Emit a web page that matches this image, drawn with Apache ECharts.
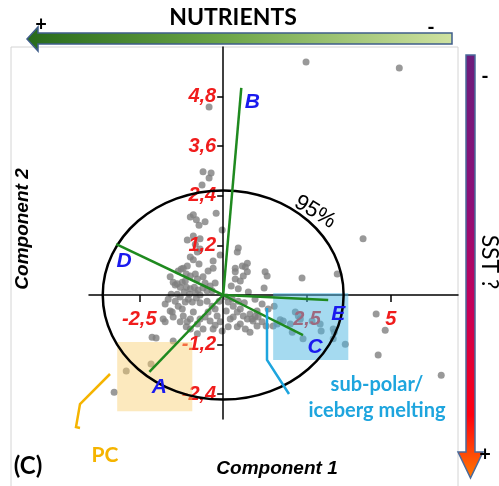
<!DOCTYPE html>
<html><head><meta charset="utf-8">
<script src="https://cdn.jsdelivr.net/npm/echarts@6/dist/echarts.min.js"></script>
<style>html,body{margin:0;padding:0;background:#fff}#c{width:499px;height:486px}</style>
</head><body><div id="c"></div>
<script>
// ---- data ----
const xTicks = [-2.5, 2.5, 5];
const yTicks = [-2.4, -1.2, 1.2, 2.4, 3.6, 4.8];
const pcX = [2.47,5.25,-0.42,-0.60,-0.36,-0.42,-0.63,-0.89,-0.98,-0.80,-0.72,-0.54,-0.21,-0.03,-1.07,-0.89,-0.83,-0.69,-0.77,-0.98,
 -0.89,-1.07,-0.30,-0.09,0.45,0.42,0.36,0.57,0.72,4.17,-1.19,-1.34,-1.25,-0.72,-0.60,-0.45,-0.30,0.36,0.66,0.72,
 0.60,0.36,0.51,1.25,1.31,2.35,3.40,1.22,-1.49,-1.37,-1.22,-1.13,-0.98,-0.83,-0.77,-1.43,-1.28,-1.10,-0.98,-0.86,
 -0.75,-0.60,-0.48,-1.16,-1.01,-0.83,-0.69,-1.37,-1.28,-1.43,-1.34,-1.13,-1.22,-1.04,-0.92,-0.80,-0.69,-1.49,-1.52,-1.79,
 -1.58,-1.19,-0.98,-0.89,-1.07,-0.77,-0.69,-0.48,-0.33,-0.45,-0.24,-0.18,-0.09,-0.30,-0.03,0.15,0.30,0.42,0.51,0.60,
 0.72,0.80,0.89,1.01,0.21,0.15,0.42,0.09,0.27,0.45,0.63,-2.12,-2.00,-1.49,-2.15,-2.89,-3.25,-1.73,-1.28,-1.10,
 1.01,1.04,1.16,1.28,0.95,0.86,1.52,1.70,1.79,1.61,1.49,2.15,2.24,2.30,2.00,2.06,2.38,2.65,2.89,2.92,
 3.28,3.31,3.28,3.64,4.56,4.83,4.62,6.50,-1.10,-1.58,-0.54,-0.39,-0.24,-0.33,-1.55,-1.64,-1.73,-0.54,-0.39,-0.24,
 -0.60,-0.77,-0.98,0.30,0.51,0.66,0.80,0.09,-0.12,0.24,0.45,0.75,0.95,1.16,1.34,-0.69];
const pcY = [5.64,5.49,4.55,2.98,2.95,2.83,2.66,1.94,1.89,1.82,1.69,1.77,1.98,1.57,1.33,1.43,1.23,1.11,1.04,0.92,
 0.85,0.70,0.82,0.97,1.14,1.04,0.65,0.70,0.77,1.36,0.65,0.58,0.63,0.75,0.44,0.58,0.65,0.56,0.68,0.56,
 0.46,0.39,0.34,0.56,0.46,0.41,0.51,0.17,0.31,0.27,0.31,0.34,0.46,0.51,0.39,0.24,0.19,0.19,0.15,0.19,
 0.12,0.17,0.10,0.07,0.02,0.05,0.00,0.02,-0.05,-0.15,-0.27,-0.17,-0.34,-0.10,-0.17,-0.07,-0.19,-0.53,-0.41,-0.58,
 -0.39,-0.51,-0.58,-0.41,-0.65,-0.70,-0.58,-0.15,-0.27,-0.41,-0.34,-0.51,-0.65,-0.82,-0.87,-0.17,-0.27,-0.41,-0.34,-0.51,
 -0.58,-0.46,-0.63,-0.75,-0.58,-0.77,-0.77,-0.05,-0.10,-0.15,-0.19,-1.02,-1.04,-1.11,-1.67,-1.84,-2.35,-0.65,-0.65,-0.77,
 -0.39,-0.53,-0.65,-0.75,-0.52,-0.58,-0.27,-0.60,-0.63,-0.70,-0.75,-0.41,-0.51,-0.58,-0.70,-0.90,-1.06,-0.63,-0.70,-0.87,
 -0.82,-0.90,-1.06,-1.19,-0.46,-0.85,-1.45,-1.94,0.51,0.44,0.29,0.22,0.29,0.10,0.02,-0.10,-0.22,-0.53,-0.63,-0.73,
 -0.82,-0.94,-0.82,-0.53,-0.70,-0.82,-0.90,-0.39,-0.15,0.22,0.15,0.07,-0.10,-0.22,-0.34,1.36];
const loadingNames = ['A', 'B', 'C', 'D', 'E'];
const loadingX = [-2.20, 0.54, 2.38, -3.19, 3.13];
const loadingY = [-1.86, 5.01, -0.97, 1.23, -0.12];
const ellipseRadii = [3.59, 2.53];           // 95% confidence ellipse (x, y)
const pcBox = [-3.16, -0.92, -2.81, -1.14];       // xMin, xMax, yMin, yMax
const icebergBox = [1.49, 3.73, -1.57, 0.05];
const xRange = [-4, 7];
const yRange = [-3, 6];

// ---- layout / styles ----
const G = {left:89, right:41, top:47, bottom:67, W:499, H:486};
const gw = G.W - G.left - G.right, gh = G.H - G.top - G.bottom;
// shift axes so that they cross at the origin
const xAxisOffset = -(gh * (0 - yRange[0]) / (yRange[1] - yRange[0]));
const yAxisOffset = -(gw * (0 - xRange[0]) / (xRange[1] - xRange[0]));
const labelOffsets = {A:[10,15], B:[11,14], C:[12,12], D:[8,17], E:[10,14]};
const tickFont = {color:'#f01c1c', fontSize:20, fontWeight:'bold', fontStyle:'italic', fontFamily:'Liberation Sans'};
const fmt = v => String(v).replace('.', ',');

const chart = echarts.init(document.getElementById('c'), null, {renderer:'canvas'});
const points = pcX.map((x, i) => [x, pcY[i]]);

function boxSeries(box, color, z) {
  return {
    type:'custom', z:z, silent:true, data:[box],
    encode:{x:[0,1], y:[2,3]},
    renderItem(params, api) {
      const p1 = api.coord([api.value(0), api.value(3)]);
      const p2 = api.coord([api.value(1), api.value(2)]);
      return {type:'rect', shape:{x:p1[0], y:p1[1], width:p2[0]-p1[0], height:p2[1]-p1[1]}, style:{fill:color}};
    }
  };
}

const T = (text, x, y, font, extra, fill) => Object.assign({type:'text', x:x, y:y, style:{text:text, font:font, fill:fill || '#000', align:'center', verticalAlign:'middle'}}, extra || {});

chart.setOption({
  animation:false,
  grid:{left:G.left, right:G.right, top:G.top, bottom:G.bottom, containLabel:false},
  xAxis:{type:'value', z:2, min:xRange[0], max:xRange[1], position:'bottom', offset:xAxisOffset,
    axisLine:{onZero:false, lineStyle:{color:'#000', width:1.5}},
    axisTick:{show:true, customValues:xTicks, length:7, lineStyle:{color:'#000', width:1.5}},
    axisLabel:Object.assign({customValues:xTicks, formatter:fmt, margin:14}, tickFont),
    splitLine:{show:false}},
  yAxis:{type:'value', z:2, min:yRange[0], max:yRange[1], position:'left', offset:yAxisOffset,
    axisLine:{onZero:false, lineStyle:{color:'#000', width:1.5}},
    axisTick:{show:true, customValues:yTicks, length:6, lineStyle:{color:'#000', width:1.5}},
    axisLabel:Object.assign({customValues:yTicks, formatter:fmt, margin:7}, tickFont),
    splitLine:{show:false}},
  series:[
    {type:'scatter', z:1, data:points, symbolSize:7, itemStyle:{color:'#7f7f7f'}, silent:true},
    boxSeries(pcBox, 'rgba(248,206,110,0.45)', 3),
    boxSeries(icebergBox, 'rgba(75,181,225,0.5)', 3),
    {type:'custom', z:4, silent:true, data:[[0, 0, ellipseRadii[0], ellipseRadii[1]]],
      encode:{x:0, y:1},
      renderItem(params, api) {
        const c = api.coord([api.value(0), api.value(1)]);
        const s = api.size([api.value(2), api.value(3)]);
        return {type:'ellipse', shape:{cx:c[0], cy:c[1], rx:s[0], ry:s[1]}, style:{fill:null, stroke:'#000', lineWidth:2.5}};
      }},
    {type:'custom', z:5, silent:true, data:loadingX.map((x, i) => [x, loadingY[i]]),
      encode:{x:0, y:1},
      renderItem(params, api) {
        const o = api.coord([0, 0]);
        const e = api.coord([api.value(0), api.value(1)]);
        const name = loadingNames[params.dataIndex];
        const off = labelOffsets[name];
        return {type:'group', children:[
          {type:'line', shape:{x1:o[0], y1:o[1], x2:e[0], y2:e[1]}, style:{stroke:'#1f8a1f', lineWidth:2.5}},
          {type:'text', x:e[0]+off[0], y:e[1]+off[1], style:{text:name, font:'italic bold 21px "Liberation Sans"', fill:'#1a1aee', align:'center', verticalAlign:'middle'}}
        ]};
      }}
  ],
  graphic:[
    {type:'rect', z:-10, shape:{x:11, y:47, width:447, height:450}, style:{fill:null, stroke:'#d4d4d4', lineWidth:1}},
    {type:'polygon', shape:{points:[[27,39],[38,27],[38,33],[452,33],[452,44],[38,44],[38,51]]},
      style:{stroke:'#3f5d8a', lineWidth:1.5, fill:new echarts.graphic.LinearGradient(0,0,1,0,[
        {offset:0, color:'#276a1b'}, {offset:0.45, color:'#6aa446'}, {offset:1, color:'#cfe2a1'}])}},
    T('NUTRIENTS', 233, 18, 'bold 23px Lato'),
    T('+', 41, 25, 'bold 20px Lato'),
    T('-', 431, 28, 'bold 20px Lato'),
    {type:'polygon', shape:{points:[[466,55],[475,55],[475,452],[483,452],[470.5,478],[458,452],[466,452]]},
      style:{stroke:'#4a6a9a', lineWidth:1.5, fill:new echarts.graphic.LinearGradient(0,0,0,1,[
        {offset:0, color:'#6c1d7c'}, {offset:0.35, color:'#8d0f78'}, {offset:0.6, color:'#c6005a'},
        {offset:0.85, color:'#ff0010'}, {offset:1, color:'#ff7a00'}])}},
    T('-', 485, 77, 'bold 20px Lato'),
    T('+', 485, 455, 'bold 20px Lato'),
    T('SST ?', 489, 262, '23px Lato', {rotation:-Math.PI/2}),
    T('95%', 315, 212, '22px "Liberation Sans"', {rotation:-0.55}),
    {type:'polyline', z:10, shape:{points:[[267,308],[267,360],[289,394]]}, style:{stroke:'#1ea5de', lineWidth:2.5, fill:null}},
    T('sub-polar/', 377, 385, 'bold 20px Lato', null, '#1ea5de'),
    T('iceberg melting', 377, 411, 'bold 20px Lato', null, '#1ea5de'),
    {type:'polyline', z:10, shape:{points:[[110,374],[80,404],[76,427],[80,428]]}, style:{stroke:'#f5b400', lineWidth:2.5, fill:null}},
    T('PC', 105, 455, 'bold 21px Lato', null, '#f5b400'),
    T('(C)', 28, 466, 'bold 24px Lato'),
    T('Component 1', 277, 469, 'italic bold 19px "Liberation Sans"'),
    T('Component 2', 23, 229, 'italic bold 19px "Liberation Sans"', {rotation:Math.PI/2})
  ]
});
</script></body></html>
